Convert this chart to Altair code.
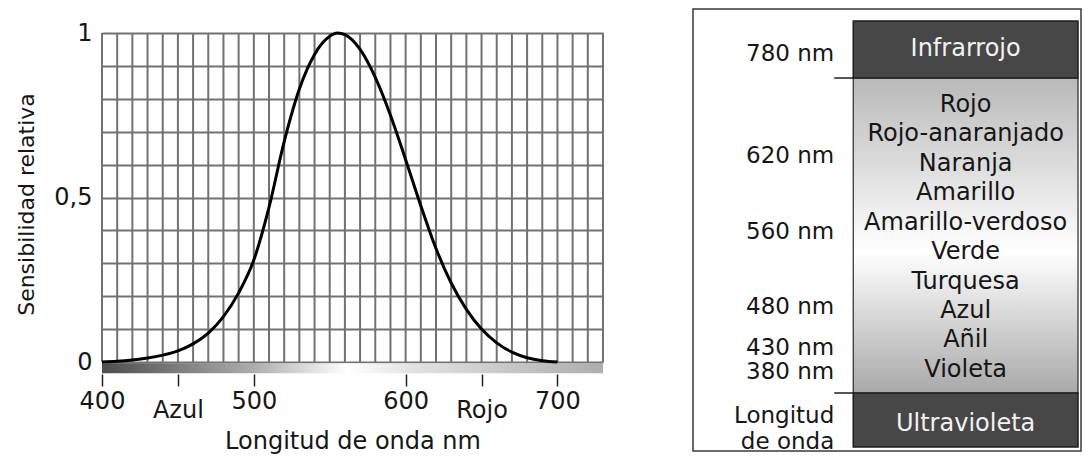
import altair as alt
import pandas as pd

# ---------------- data: left panel (relative sensitivity curve) ----------------
WAVELENGTH = [400, 410, 420, 430, 440, 450, 460, 470, 480, 490, 500, 510, 520, 530,
              540, 550, 555, 560, 570, 580, 590, 600, 610, 620, 630, 640, 650, 660,
              670, 680, 690, 700]
SENSITIVITY = [0.0, 0.002, 0.006, 0.012, 0.021, 0.034, 0.055, 0.088, 0.138, 0.21,
               0.31, 0.47, 0.67, 0.83, 0.935, 0.99, 1.0, 0.995, 0.95, 0.865, 0.75,
               0.615, 0.475, 0.345, 0.24, 0.16, 0.10, 0.058, 0.03, 0.013, 0.004, 0.0]
GRID_NM = list(range(400, 731, 10))
GRID_Y = [0, 0.1, 0.2, 0.3, 0.4, 0.5, 0.6, 0.7, 0.8, 0.9, 1]
X_TICKS = [400, 450, 500, 600, 650, 700]
X_DOMAIN = [400, 730]
BAR_SPAN = [400, 730]

# ---------------- data: right panel (spectrum table) ----------------
COLOUR_NAMES = ["Rojo", "Rojo-anaranjado", "Naranja", "Amarillo", "Amarillo-verdoso",
                "Verde", "Turquesa", "Azul", "Añil", "Violeta"]
WAVE_LABELS = ["780 nm", "620 nm", "560 nm", "480 nm", "430 nm", "380 nm",
               "Longitud", "de onda"]
WAVE_LABEL_ROWS = [-1.733, 1.716, 4.315, 6.864, 8.27, 9.07, 10.57, 11.45]
BAND_NAMES = ["Infrarrojo", "Ultravioleta"]
BAND_TEXT_ROWS = [-1.903, 10.84]
BAND_TOP = [-2.786, 9.854]
BAND_BOTTOM = [-0.8495, 11.689]
FRAME_ROWS = [-3.194, 11.825]

FONT = "DejaVu Sans"
GRID_COLOR = "#727272"
TEXT = "#161616"

PLOT_W = 501
PLOT_H = 329

# ---------------- left chart ----------------
curve_df = pd.DataFrame({"nm": WAVELENGTH, "s": SENSITIVITY})
grid_df = pd.DataFrame({"nm": GRID_NM})
bar_df = pd.DataFrame({"nm": [BAR_SPAN[0]], "nm2": [BAR_SPAN[1]],
                       "s": [-0.004], "s2": [-0.0344]})

xscale = alt.Scale(domain=X_DOMAIN, nice=False, zero=False)
yscale = alt.Scale(domain=[0, 1], nice=False, zero=False)

xaxis = alt.Axis(
    values=X_TICKS, grid=False, domain=False, ticks=True, tickSize=12,
    tickColor="#222222", tickWidth=1.5, offset=12,
    labelExpr="datum.value == 450 ? ['', 'Azul'] : datum.value == 650 ? ['', 'Rojo'] : '' + datum.value",
    labelFont=FONT, labelFontSize=24, labelColor=TEXT, labelPadding=3,
    labelLineHeight=9, labelFlush=False, labelOverlap=False,
    title="Longitud de onda nm", titleFont=FONT, titleFontSize=24,
    titleFontWeight="normal", titleColor=TEXT, titleY=74, titleBaseline="alphabetic",
)
yaxis = alt.Axis(
    values=GRID_Y, grid=True, gridColor=GRID_COLOR, gridWidth=2, domain=False,
    ticks=False, tickSize=0,
    labelExpr="datum.value == 1 ? '1' : datum.value == 0.5 ? '0,5' : datum.value == 0 ? '0' : ''",
    labelFont=FONT, labelFontSize=24, labelColor=TEXT, labelPadding=10,
    labelFlush=False, labelOverlap=False,
    title="Sensibilidad relativa", titleFont=FONT, titleFontSize=22,
    titleFontWeight="normal", titleColor=TEXT, titleX=-69, titleY=171,
    titleBaseline="alphabetic",
)

vgrid = alt.Chart(grid_df).mark_rule(color=GRID_COLOR, strokeWidth=2).encode(
    x=alt.X("nm:Q", scale=xscale, axis=xaxis)
)
bar = alt.Chart(bar_df).mark_rect(
    fill=alt.LinearGradient(
        gradient="linear", x1=0, x2=1, y1=0, y2=0,
        stops=[alt.GradientStop(offset=0, color="#4d4d4d"),
               alt.GradientStop(offset=0.3, color="#acacac"),
               alt.GradientStop(offset=0.49, color="#ffffff"),
               alt.GradientStop(offset=0.62, color="#e2e2e2"),
               alt.GradientStop(offset=1, color="#adadad")]),
).encode(
    x=alt.X("nm:Q", scale=xscale, axis=xaxis), x2="nm2:Q",
    y=alt.Y("s:Q", scale=yscale, axis=yaxis), y2="s2:Q",
)
curve = alt.Chart(curve_df).mark_line(color="#000000", strokeWidth=3,
                                      interpolate="monotone").encode(
    x=alt.X("nm:Q", scale=xscale, axis=xaxis),
    y=alt.Y("s:Q", scale=yscale, axis=yaxis),
)
left = alt.layer(vgrid, bar, curve).properties(width=PLOT_W, height=PLOT_H)

# ---------------- right chart ----------------
ROW_TOP = -2.3785
ROW_BOTTOM = 8.8006
LABEL_RIGHT = 0.364
COL_LEFT = 0.413
COL_RIGHT = 0.9923
COL_CENTER = (COL_LEFT + COL_RIGHT) / 2

xs = alt.Scale(domain=[0, 1], nice=False, zero=False)
ys = alt.Scale(domain=[ROW_TOP, ROW_BOTTOM], nice=False, zero=False, reverse=True)

frame_df = pd.DataFrame({"x0": [0.0], "x1": [1.0], "y0": [FRAME_ROWS[0]], "y1": [FRAME_ROWS[1]]})
column_df = pd.DataFrame({"x0": [COL_LEFT], "x1": [COL_RIGHT],
                          "y0": [BAND_BOTTOM[0]], "y1": [BAND_TOP[1]]})
band_df = pd.DataFrame({"x0": [COL_LEFT] * 2, "x1": [COL_RIGHT] * 2,
                        "y0": BAND_TOP, "y1": BAND_BOTTOM})
tick_df = pd.DataFrame({"x0": [LABEL_RIGHT] * 2, "x1": [COL_LEFT] * 2,
                        "y0": [BAND_BOTTOM[0], BAND_TOP[1]]})
names_df = pd.DataFrame({"x0": [COL_CENTER] * len(COLOUR_NAMES),
                         "y0": list(range(len(COLOUR_NAMES))), "t": COLOUR_NAMES})
wave_df = pd.DataFrame({"x0": [LABEL_RIGHT] * len(WAVE_LABELS),
                        "y0": WAVE_LABEL_ROWS, "t": WAVE_LABELS})
bandtxt_df = pd.DataFrame({"x0": [COL_CENTER] * 2, "y0": BAND_TEXT_ROWS, "t": BAND_NAMES})

X0 = alt.X("x0:Q", scale=xs, axis=None)
Y0 = alt.Y("y0:Q", scale=ys, axis=None)

frame = alt.Chart(frame_df).mark_rect(fill="#ffffff", stroke="#3a3a3a",
                                      strokeWidth=1.5).encode(x=X0, x2="x1:Q", y=Y0, y2="y1:Q")
column = alt.Chart(column_df).mark_rect(
    fill=alt.LinearGradient(
        gradient="linear", x1=0, x2=0, y1=0, y2=1,
        stops=[alt.GradientStop(offset=0, color="#b9b9b9"),
               alt.GradientStop(offset=0.55, color="#ffffff"),
               alt.GradientStop(offset=1, color="#a9a9a9")]),
    stroke="#2a2a2a", strokeWidth=1.2,
).encode(x=X0, x2="x1:Q", y=Y0, y2="y1:Q")
bands = alt.Chart(band_df).mark_rect(fill="#474747", stroke="#1e1e1e",
                                     strokeWidth=1.5).encode(x=X0, x2="x1:Q", y=Y0, y2="y1:Q")
ticks = alt.Chart(tick_df).mark_rule(color="#1e1e1e", strokeWidth=1.5).encode(
    x=X0, x2="x1:Q", y=Y0)
names = alt.Chart(names_df).mark_text(font=FONT, fontSize=24, color=TEXT, align="center",
                                      baseline="middle", dy=2).encode(x=X0, y=Y0, text="t:N")
waves = alt.Chart(wave_df).mark_text(font=FONT, fontSize=23, color=TEXT, align="right",
                                     baseline="middle", dy=2).encode(x=X0, y=Y0, text="t:N")
bandtxt = alt.Chart(bandtxt_df).mark_text(font=FONT, fontSize=24, color="#f2f2f2",
                                          align="center", baseline="middle",
                                          dy=2).encode(x=X0, y=Y0, text="t:N")

right = alt.layer(frame, column, bands, ticks, names, waves, bandtxt).properties(
    width=388, height=PLOT_H)

chart = alt.hconcat(left, right, spacing=88).properties(
    padding={"left": 7, "top": 0, "right": 0, "bottom": 0},
    background="#ffffff",
).configure_view(stroke=None)

chart.save("out.html", embed_options={"renderer": "svg", "actions": False})
